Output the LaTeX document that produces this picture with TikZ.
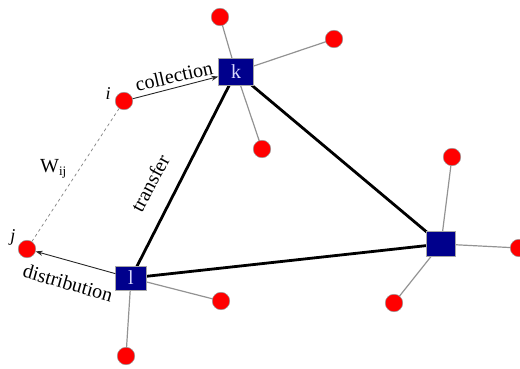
\documentclass[tikz,border=0pt]{standalone}
\usepackage{fontspec}
\setmainfont{Liberation Serif}
\usetikzlibrary{arrows.meta,backgrounds}
\definecolor{hubblue}{RGB}{0,0,140}
\begin{document}
\begin{tikzpicture}[x=1pt,y=-1pt,
  hub/.style={draw=gray!70,fill=hubblue,inner sep=0pt,text=white!85!blue,font=\fontsize{20}{24}\selectfont},
  dot/.style={circle,draw=gray!80,fill=red,minimum size=17.5pt,inner sep=0pt,line width=0.5pt},
  spoke/.style={draw=gray!85,line width=1.2pt},
  trunk/.style={draw=black,line width=2.8pt},
  flow/.style={draw=black!85,line width=0.9pt,-{Stealth[length=7pt,width=5pt]}},
  lab/.style={font=\fontsize{20}{24}\selectfont,inner sep=0pt},
  ilab/.style={font=\fontsize{18}{22}\selectfont\itshape,inner sep=0pt}
]
\clip (0,0) rectangle (520,369);
\useasboundingbox (0,0) rectangle (520,369);
% hubs
\node[hub,minimum width=35pt,minimum height=27pt] (k) at (236,72) {k};
\node[hub,minimum width=31pt,minimum height=24pt] (l) at (131,278) {l};
\node[hub,minimum width=29pt,minimum height=25pt] (m) at (441,244) {};
% demand points
\node[dot] (kt) at (220,17) {};
\node[dot] (kr) at (334,39) {};
\node[dot] (kb) at (262,149) {};
\node[dot] (i) at (124,101) {};
\node[dot] (j) at (27,249) {};
\node[dot] (lr) at (221,301) {};
\node[dot] (lb) at (126,356) {};
\node[dot] (mt) at (452,157) {};
\node[dot] (mr) at (519,248) {};
\node[dot] (mb) at (394,303) {};
\begin{scope}[on background layer]
  \draw[spoke] (k.center) -- (kt.center);
  \draw[spoke] (k.center) -- (kr.center);
  \draw[spoke] (k.center) -- (kb.center);
  \draw[spoke] (l.center) -- (lr.center);
  \draw[spoke] (l.center) -- (lb.center);
  \draw[spoke] (m.center) -- (mt.center);
  \draw[spoke] (m.center) -- (mr.center);
  \draw[spoke] (m.center) -- (mb.center);
  \draw[trunk] (k.center) -- (l.center);
  \draw[trunk] (k.center) -- (m.center);
  \draw[trunk] (l.center) -- (m.center);
\end{scope}
\draw[flow] (i) -- (k);
\draw[flow] (l) -- (j);
\draw[draw=gray,line width=0.7pt,dashed] (i) -- (j);
% labels
\node[lab,rotate=13] (tc) at (174,76) {collection};
\node[lab,rotate=-16] (td) at (68,283) {distribution};
\node[lab,rotate=62] (tt) at (150,183) {transfer};
\node[lab,anchor=base west] (tw) at (40,172) {W\raisebox{-0.35ex}{\fontsize{13}{15}\selectfont ij}};
\node[ilab] (ti) at (108,94) {i};
\node[ilab] (tj) at (13,237) {j};
\end{tikzpicture}
\end{document}
